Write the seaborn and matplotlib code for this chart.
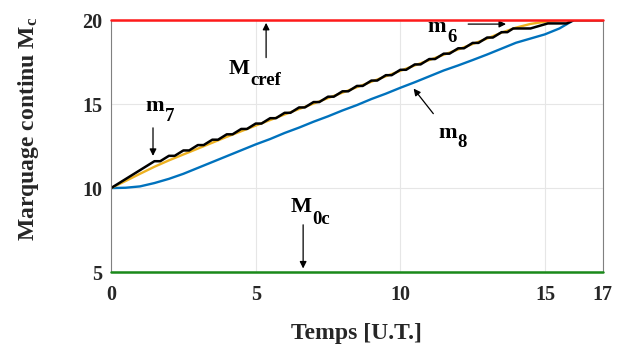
import matplotlib
matplotlib.use("Agg")
import matplotlib.pyplot as plt
import matplotlib.transforms as mtransforms
import seaborn as sns
import pandas as pd

# ---- data ----
m7_x = [0, 1.5, 1.7, 2.0, 2.2, 2.5, 2.7, 3.0, 3.2, 3.5, 3.7, 4.0, 4.2, 4.5, 4.7,
        5.0, 5.2, 5.5, 5.7, 6.0, 6.2, 6.5, 6.7, 7.0, 7.2, 7.5, 7.7, 8.0, 8.2,
        8.5, 8.7, 9.0, 9.2, 9.5, 9.7, 10.0, 10.2, 10.5, 10.7, 11.0, 11.2, 11.5,
        11.7, 12.0, 12.2, 12.5, 12.7, 13.0, 13.2, 13.5, 13.7, 13.9, 14.5, 15.1,
        15.75, 16.0, 17.0]
m7_y = [10.0, 11.6, 11.6, 11.92, 11.92, 12.24, 12.24, 12.56, 12.56, 12.88, 12.88,
        13.2, 13.2, 13.52, 13.52, 13.84, 13.84, 14.16, 14.16, 14.48, 14.48, 14.8,
        14.8, 15.12, 15.12, 15.44, 15.44, 15.76, 15.76, 16.08, 16.08, 16.4, 16.4,
        16.72, 16.72, 17.04, 17.04, 17.36, 17.36, 17.68, 17.68, 18.0, 18.0, 18.32,
        18.32, 18.64, 18.64, 18.96, 18.96, 19.28, 19.28, 19.5, 19.5, 19.8, 19.8,
        20.0, 20.0]

m6_x = [0, 0.5, 1, 1.5, 2, 3, 4, 5, 6, 7, 8, 9, 10, 11, 12, 13, 13.5, 14, 14.5,
        15, 15.5, 16, 17]
m6_y = [10.0, 10.42, 10.85, 11.27, 11.65, 12.35, 13.05, 13.72, 14.38, 15.03,
        15.68, 16.33, 16.98, 17.62, 18.25, 18.9, 19.25, 19.55, 19.77, 19.9,
        19.98, 20.0, 20.0]

m8_x = [0, 0.5, 1, 1.5, 2, 2.5, 3, 3.5, 4, 4.5, 5, 5.5, 6, 6.5,
        7, 7.5, 8, 8.5, 9, 9.5, 10, 10.5, 11, 11.5, 12, 12.5, 13, 13.5, 14, 14.5,
        15, 15.5, 16, 17]
m8_y = [10.0, 10.02, 10.1, 10.3, 10.55, 10.85, 11.2, 11.55, 11.9,
        12.25, 12.6, 12.92, 13.28, 13.6, 13.95, 14.27, 14.62, 14.94,
        15.3, 15.62, 15.97, 16.3, 16.65, 17.0, 17.3, 17.62, 17.95, 18.3, 18.65,
        18.9, 19.15, 19.5, 20.0, 20.0]

ref_x = [0, 17]
mcref_y = [20, 20]
m0c_y = [5, 5]

x_ticks = [0, 5, 10, 15, 17]
y_ticks = [5, 10, 15, 20]

# ---- style ----
sns.set_theme(style="white")
plt.rcParams["font.family"] = ["Liberation Serif", "DejaVu Serif"]
plt.rcParams["font.weight"] = "bold"
plt.rcParams["mathtext.fontset"] = "custom"
plt.rcParams["mathtext.rm"] = "Liberation Serif:bold"
plt.rcParams["mathtext.it"] = "Liberation Serif:bold"
plt.rcParams["mathtext.bf"] = "Liberation Serif:bold"

fig = plt.figure(figsize=(6.17, 3.52), dpi=100)
ax = fig.add_axes([0.18, 0.227, 0.797, 0.716])

df7 = pd.DataFrame({"x": m7_x, "y": m7_y})
df6 = pd.DataFrame({"x": m6_x, "y": m6_y})
df8 = pd.DataFrame({"x": m8_x, "y": m8_y})
dref = pd.DataFrame({"x": ref_x, "y": mcref_y})
d0 = pd.DataFrame({"x": ref_x, "y": m0c_y})

sns.lineplot(data=df8, x="x", y="y", ax=ax, color="#0072BD", lw=1.7, estimator=None, sort=False)
sns.lineplot(data=df6, x="x", y="y", ax=ax, color="#EDB120", lw=1.7, estimator=None, sort=False)
sns.lineplot(data=df7, x="x", y="y", ax=ax, color="black", lw=1.8, estimator=None, sort=False)
sns.lineplot(data=dref, x="x", y="y", ax=ax, color="#FF1A1A", lw=1.8, estimator=None,
             sort=False, clip_on=False, zorder=5)
sns.lineplot(data=d0, x="x", y="y", ax=ax, color="#1A8A1A", lw=1.8, estimator=None,
             sort=False, clip_on=False, zorder=5)

ax.set_xlim(0, 17)
ax.set_ylim(5, 20)
ax.set_xticks(x_ticks)
ax.set_yticks(y_ticks)
ax.set_xticklabels([str(t) for t in x_ticks], fontsize=14.5, fontweight="bold")
ax.set_yticklabels([str(t) for t in y_ticks], fontsize=14.5, fontweight="bold")
ax.tick_params(axis="x", direction="in", length=3, color="#808080", pad=9, labelcolor="#262626")
ax.tick_params(axis="y", direction="in", length=3, color="#808080", pad=6, labelcolor="#262626")
ax.grid(True, color="#E6E6E6", lw=0.8)
for s in ax.spines.values():
    s.set_color("#808080")
    s.set_linewidth(0.8)

ax.set_xlabel("Temps [U.T.]", fontsize=17, fontweight="bold", color="#262626", labelpad=13)
ax.set_ylabel(r"Marquage continu M$_{\mathbf{c}}$", fontsize=17, fontweight="bold", color="#262626")
ax.yaxis.set_label_coords(-0.143, 0.57)

fig.canvas.draw()
renderer = fig.canvas.get_renderer()


def sub_text(x, y, main, sub, size=16, subsize=13.5, drop=10):
    t = ax.text(x, y, main, fontsize=size, fontweight="bold", color="black")
    bb = t.get_window_extent(renderer=renderer)
    w_pt = bb.width * 72.0 / fig.dpi
    tr = mtransforms.offset_copy(ax.transData, fig=fig, x=w_pt + 0.5, y=-drop, units="points")
    ax.text(x, y, sub, fontsize=subsize, fontweight="bold", color="black", transform=tr)


arrow = dict(arrowstyle="-|>", color="black", lw=0.9, mutation_scale=10)
ax.annotate("", xy=(5.36, 20.0), xytext=(5.36, 17.6), arrowprops=arrow)
sub_text(4.05, 16.8, "M", "cref", drop=8)
ax.annotate("", xy=(1.45, 11.75), xytext=(1.45, 13.75), arrowprops=arrow)
sub_text(1.2, 14.6, "m", "7", drop=7)
ax.annotate("", xy=(13.75, 19.76), xytext=(12.25, 19.76), arrowprops=arrow)
sub_text(10.95, 19.3, "m", "6", drop=7)
ax.annotate("", xy=(10.4, 16.05), xytext=(11.2, 14.3), arrowprops=arrow)
sub_text(11.3, 13.0, "m", "8", drop=7)
ax.annotate("", xy=(6.64, 5.05), xytext=(6.64, 7.98), arrowprops=arrow)
sub_text(6.2, 8.55, "M", "0c", drop=8)

fig.savefig("out.png", dpi=100)
